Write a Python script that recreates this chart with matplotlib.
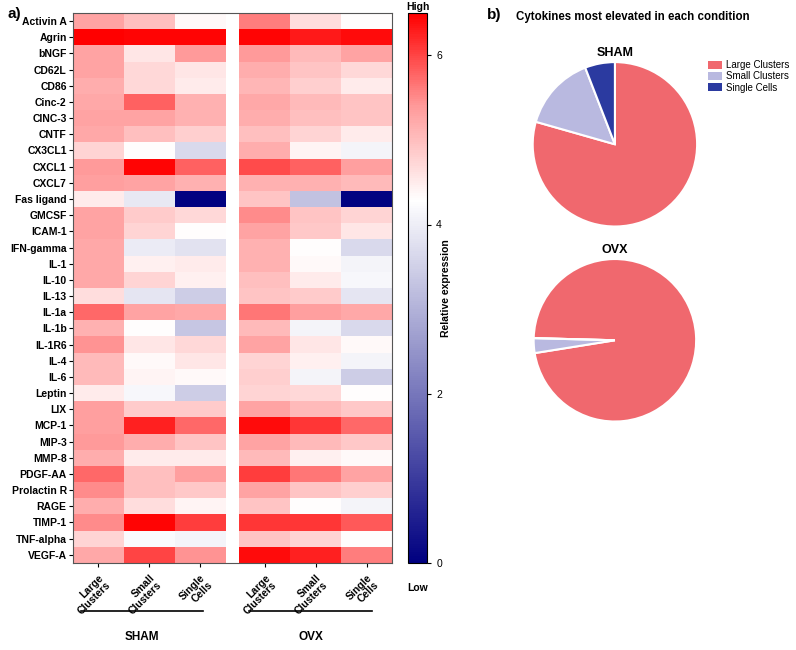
import numpy as np
import matplotlib
matplotlib.use('Agg')
import matplotlib.pyplot as plt
from matplotlib.colors import LinearSegmentedColormap, Normalize
from matplotlib.patches import Patch

plt.rcParams['font.family'] = ['Liberation Sans', 'DejaVu Sans']

cytokines = ['Activin A', 'Agrin', 'bNGF', 'CD62L', 'CD86', 'Cinc-2', 'CINC-3', 'CNTF',
             'CX3CL1', 'CXCL1', 'CXCL7', 'Fas ligand', 'GMCSF', 'ICAM-1', 'IFN-gamma',
             'IL-1', 'IL-10', 'IL-13', 'IL-1a', 'IL-1b', 'IL-1R6', 'IL-4', 'IL-6', 'Leptin',
             'LIX', 'MCP-1', 'MIP-3', 'MMP-8', 'PDGF-AA', 'Prolactin R', 'RAGE', 'TIMP-1',
             'TNF-alpha', 'VEGF-A']
cell_types = ['Large\nClusters', 'Small\nClusters', 'Single\nCells']

# columns: large clusters, small clusters, single cells
sham = [
    [5.3, 5.0, 4.35], [6.5, 6.45, 6.45], [5.3, 4.55, 5.4], [5.3, 4.7, 4.55],
    [5.2, 4.7, 4.5], [5.25, 5.8, 5.15], [5.3, 5.3, 5.15], [5.25, 5.0, 4.8],
    [4.75, 4.3, 3.65], [5.4, 6.45, 5.8], [5.35, 5.3, 5.15], [4.5, 3.9, 0.05],
    [5.3, 4.85, 4.7], [5.3, 4.75, 4.3], [5.25, 3.95, 3.8], [5.25, 4.45, 4.5],
    [5.25, 4.75, 4.45], [4.65, 3.85, 3.45], [5.75, 5.3, 5.25], [5.15, 4.3, 3.35],
    [5.45, 4.55, 4.7], [5.05, 4.35, 4.55], [5.05, 4.4, 4.35], [4.5, 4.15, 3.45],
    [5.35, 4.85, 4.85], [5.35, 6.25, 5.75], [5.4, 5.2, 4.95], [5.2, 4.5, 4.5],
    [5.75, 5.0, 5.35], [5.5, 5.0, 4.9], [5.2, 4.65, 4.4], [5.5, 6.45, 6.05],
    [4.75, 4.2, 4.1], [5.25, 6.0, 5.45]]
ovx = [
    [5.6, 4.65, 4.3], [6.45, 6.3, 6.4], [5.4, 5.05, 5.3], [5.2, 4.95, 4.7],
    [5.1, 4.8, 4.5], [5.25, 5.05, 4.95], [5.2, 5.0, 4.95], [5.0, 4.75, 4.5],
    [5.2, 4.4, 4.1], [5.95, 5.8, 5.35], [5.15, 5.15, 5.05], [4.95, 3.25, 0.05],
    [5.5, 4.95, 4.75], [5.3, 4.9, 4.55], [5.15, 4.3, 3.65], [5.15, 4.35, 4.1],
    [5.0, 4.5, 4.15], [4.95, 4.85, 3.85], [5.65, 5.35, 5.25], [5.05, 4.1, 3.65],
    [5.3, 4.55, 4.35], [4.75, 4.45, 4.1], [4.8, 4.1, 3.45], [4.75, 4.7, 4.3],
    [5.3, 5.05, 4.9], [6.4, 6.1, 5.75], [5.3, 5.05, 4.9], [5.05, 4.45, 4.35],
    [6.05, 5.65, 5.3], [5.3, 4.95, 4.8], [4.95, 4.3, 4.1], [6.1, 6.1, 5.85],
    [4.95, 4.75, 4.3], [6.4, 6.25, 5.6]]

# number of cytokines most elevated in each cell type
pie_labels = ['Large Clusters', 'Small Clusters', 'Single Cells']
sham_counts = [27, 5, 2]
ovx_counts = [33, 1, 0]
pie_colors = ['#F0686E', '#B9B9E0', '#2B3AA0']

cmap = LinearSegmentedColormap.from_list(
    'bwr_prism', [(0, '#000080'), (0.66, '#FFFFFF'), (0.83, '#FF9B9B'), (1, '#FF0000')])
norm = Normalize(vmin=0, vmax=6.5)

fig = plt.figure(figsize=(7.96, 6.5), dpi=100)

# ---- a) heatmap
ax = fig.add_axes([0.0917, 0.134, 0.4008, 0.846])
gap = 0.27
data = np.hstack([np.array(sham), np.full((len(cytokines), 1), np.nan), np.array(ovx)])
data = np.ma.masked_invalid(data)
xedges = np.array([0, 1, 2, 3, 3 + gap, 4 + gap, 5 + gap, 6 + gap])
yedges = np.arange(len(cytokines) + 1)
mesh = ax.pcolormesh(xedges, yedges, data, cmap=cmap, norm=norm)
ax.set_xlim(0, 6 + gap)
ax.set_ylim(len(cytokines), 0)
ax.set_yticks(np.arange(len(cytokines)) + 0.5)
ax.set_yticklabels(cytokines, fontsize=7.5, fontweight='bold')
xcent = [0.5, 1.5, 2.5, 3.5 + gap, 4.5 + gap, 5.5 + gap]
ax.set_xticks(xcent)
ax.set_xticklabels(cell_types * 2, fontsize=7.5, fontweight='bold', rotation=45,
                   ha='right', va='top', rotation_mode='anchor', linespacing=1.0)
ax.tick_params(axis='both', length=3, width=0.8, pad=1.5)
ax.tick_params(axis='x', pad=4)
for sp in ax.spines.values():
    sp.set_color('#555555')
    sp.set_linewidth(0.8)

# group brackets under the heatmap
for x0, x1, name in [(81, 203, 'SHAM'), (249, 372, 'OVX')]:
    y = 1 - 611 / 650
    fig.add_artist(plt.Line2D([x0 / 796, x1 / 796], [y, y], color='black', lw=1.2))
    fig.text((x0 + x1) / 2 / 796, 1 - 637 / 650, name, ha='center', va='center',
             fontsize=8.5, fontweight='bold')

fig.text(8 / 796, 1 - 14 / 650, 'a)', fontsize=11, fontweight='bold', va='center')

# ---- colorbar
cax = fig.add_axes([0.5126, 0.134, 0.024, 0.846])
cb = fig.colorbar(mesh, cax=cax, ticks=[0, 2, 4, 6])
cb.ax.tick_params(labelsize=7.5, length=3, width=0.8)
cb.outline.set_linewidth(0.8)
cb.set_label('Relative expression', fontsize=7.5, fontweight='bold', labelpad=-1)
fig.text(418 / 796, 1 - 7 / 650, 'High', ha='center', va='center', fontsize=7.5, fontweight='bold')
fig.text(418 / 796, 1 - 588 / 650, 'Low', ha='center', va='center', fontsize=7.5, fontweight='bold')

# ---- b) pies
fig.text(487 / 796, 1 - 15 / 650, 'b)', fontsize=11, fontweight='bold', va='center')
fig.text(633 / 796, 1 - 17 / 650, 'Cytokines most elevated in each condition',
         ha='center', va='center', fontsize=8.3, fontweight='bold')

for rect, counts, start, name in [([0.667, 0.649, 0.211, 0.258], sham_counts, 90, 'SHAM'),
                                  ([0.668, 0.349, 0.209, 0.255], ovx_counts, 178.5, 'OVX')]:
    pax = fig.add_axes(rect)
    wedges, _ = pax.pie(counts, colors=pie_colors, startangle=start, counterclock=False,
                        wedgeprops=dict(edgecolor='white', linewidth=1.5))
    pax.set_xlim(-1.02, 1.02)
    pax.set_ylim(-1.02, 1.02)
    pax.set_aspect('equal')
    pax.set_title(name, fontsize=9, fontweight='bold', pad=3)

handles = [Patch(facecolor=c, edgecolor='none') for c in pie_colors]
fig.legend(handles, pie_labels, loc='upper left', bbox_to_anchor=(704 / 796, 1 - 56 / 650),
           frameon=False, fontsize=7, handlelength=1.4, handleheight=0.9,
           labelspacing=0.15, handletextpad=0.5, borderaxespad=0)

fig.savefig('out.png', dpi=100)
